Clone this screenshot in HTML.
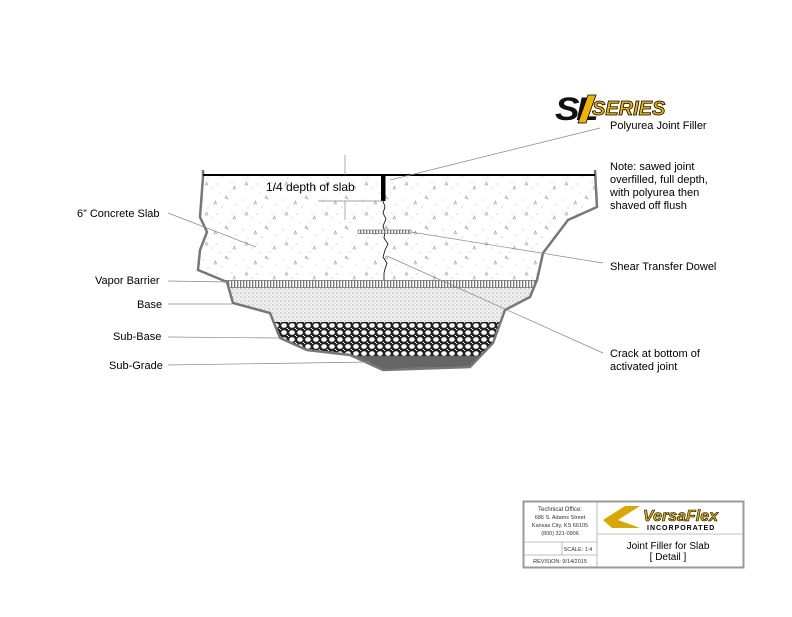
<!DOCTYPE html>
<html><head><style>
body{margin:0;background:#fff;}
svg text{font-family:"Liberation Sans",sans-serif;}
</style></head><body>
<svg width="792" height="612" viewBox="0 0 792 612" xmlns="http://www.w3.org/2000/svg">
<defs>
<pattern id="conc" width="40" height="30" patternUnits="userSpaceOnUse">
<rect width="40" height="30" fill="#fff"/>
<g fill="none" stroke="#999" stroke-width="0.6">
<path d="M5 5l3 0-1.5 -3z"/><path d="M25 18l3 1-2 -3z"/><path d="M14 24l2.5 0-1 -3z"/><path d="M33 9l2.5 0-1 -3z"/>
</g>
<g fill="#999"><circle cx="12" cy="8" r=".5"/><circle cx="32" cy="3" r=".5"/><circle cx="20" cy="13" r=".5"/><circle cx="36" cy="25" r=".5"/><circle cx="3" cy="20" r=".5"/><circle cx="30" cy="12" r=".5"/><circle cx="8" cy="28" r=".5"/><circle cx="22" cy="27" r=".5"/><circle cx="17" cy="4" r=".5"/></g>
</pattern>
<pattern id="vb" width="3" height="8" patternUnits="userSpaceOnUse">
<rect width="3" height="8" fill="#fff"/><rect width="1.3" height="8" fill="#777"/>
</pattern>
<pattern id="base" width="4" height="4" patternUnits="userSpaceOnUse">
<rect width="4" height="4" fill="#f0f0f0"/><circle cx="1" cy="1" r=".6" fill="#999"/><circle cx="3" cy="3" r=".5" fill="#bbb"/>
</pattern>
<pattern id="sub" width="8" height="7" patternUnits="userSpaceOnUse">
<rect width="8" height="7" fill="#222"/><ellipse cx="4" cy="3.5" rx="2.8" ry="2.3" fill="#fff"/><ellipse cx="0" cy="0" rx="1.3" ry="1.1" fill="#fff"/><ellipse cx="8" cy="7" rx="1.3" ry="1.1" fill="#fff"/>
</pattern>
<pattern id="sg" width="2" height="2" patternUnits="userSpaceOnUse">
<rect width="2" height="2" fill="#555"/><circle cx="1" cy="1" r=".5" fill="#aaa"/>
</pattern>
<clipPath id="cl"><path d="M203 170 L203 177 L200 217 L207 232 L200 250 L198 270 L227 282 L233 303 L270 313 L280 338 L307 350 L350 355 L383 370 L470 367 L493 343 L505 310 L530 297 L537 280 L543 253 L568 220 L597 207 L595 170 Z"/></clipPath>
</defs>
<g clip-path="url(#cl)">
<rect x="190" y="175" width="420" height="106" fill="url(#conc)"/>
<rect x="190" y="280" width="420" height="8" fill="url(#vb)"/>
<line x1="190" y1="280.5" x2="610" y2="280.5" stroke="#777" stroke-width=".7"/>
<line x1="190" y1="287.5" x2="610" y2="287.5" stroke="#777" stroke-width=".7"/>
<rect x="190" y="288" width="420" height="34" fill="url(#base)"/>
<rect x="190" y="322" width="420" height="34" fill="url(#sub)"/>
<rect x="190" y="356" width="420" height="20" fill="url(#sg)"/>
</g>
<path d="M203 170 L203 177 L200 217 L207 232 L200 250 L198 270 L227 282 L233 303 L270 313 L280 338 L307 350 L350 355 L383 370 L470 367 L493 343 L505 310 L530 297 L537 280 L543 253 L568 220 L597 207 L595 170" fill="none" stroke="#777" stroke-width="2.5"/>
<line x1="203" y1="175" x2="595" y2="175" stroke="#000" stroke-width="2"/>
<rect x="381" y="175" width="4.5" height="26" fill="#000"/>
<path d="M383 201 l2 6 -2 6 3 6 -3 7 2 6 -1 6 4 6 -3 6 -2 7 4 6 -2 6 -1 4 0 7" fill="none" stroke="#000" stroke-width=".8"/>
<rect x="358" y="230" width="53" height="3.5" fill="url(#vb)" stroke="#666" stroke-width=".6"/>
<g stroke="#888" stroke-width=".7" fill="none">
<line x1="345" y1="155" x2="345" y2="175"/><line x1="345" y1="201" x2="345" y2="220"/>
<line x1="318" y1="201" x2="383" y2="201"/>
<line x1="168" y1="213" x2="256" y2="247"/>
<line x1="168" y1="281" x2="228" y2="282"/>
<line x1="168" y1="304" x2="232" y2="304"/>
<line x1="168" y1="337" x2="278" y2="338"/>
<line x1="168" y1="365" x2="370" y2="362"/>
<line x1="390" y1="180" x2="600" y2="128"/>
<line x1="411" y1="232" x2="603" y2="263"/>
<line x1="387" y1="256" x2="603" y2="353"/>
</g>
<text x="266" y="191" font-size="12">1/4 depth of slab</text>
<g font-size="11" fill="#000">
<text x="77" y="217">6” Concrete Slab</text>
<text x="95" y="284">Vapor Barrier</text>
<text x="137" y="308">Base</text>
<text x="113" y="340">Sub-Base</text>
<text x="109" y="369">Sub-Grade</text>
<text x="610" y="129">Polyurea Joint Filler</text>
<text x="610" y="170">Note: sawed joint</text>
<text x="610" y="183">overfilled, full depth,</text>
<text x="610" y="196">with polyurea then</text>
<text x="610" y="209">shaved off flush</text>
<text x="610" y="270">Shear Transfer Dowel</text>
<text x="610" y="357">Crack at bottom of</text>
<text x="610" y="370">activated joint</text>
</g>
<g font-family="Liberation Sans" font-weight="bold" font-style="italic">
<text x="555" y="120" font-size="32" fill="#111" letter-spacing="-3" transform="translate(555 120) scale(1.15 1) translate(-555 -120)">SL</text>
<polygon points="588,95 596,95 586,123 578,123" fill="#f0b400" stroke="#000" stroke-width=".8"/>
<text x="592" y="115" font-size="20" fill="#f0b400" stroke="#000" stroke-width=".8">SERIES</text>
</g>
<rect x="523.5" y="501.5" width="220" height="66" fill="#fff" stroke="#999" stroke-width="2"/>
<g stroke="#aaa" stroke-width=".8">
<line x1="597" y1="502" x2="597" y2="567"/>
<line x1="524" y1="542" x2="597" y2="542"/>
<line x1="524" y1="555" x2="597" y2="555"/>
<line x1="562" y1="542" x2="562" y2="555"/>
<line x1="597" y1="534" x2="743" y2="534"/>
</g>
<g font-size="5.5" fill="#333" text-anchor="middle">
<text x="560" y="511" font-size="6">Technical Office:</text>
<text x="560" y="519">686 S. Adams Street</text>
<text x="560" y="527">Kansas City, KS 66105</text>
<text x="560" y="535">(800) 321-0906</text>
<text x="578" y="551">SCALE: 1:4</text>
<text x="560" y="563">REVISION: 9/14/2015</text>
</g>
<polygon points="603,520 625,506 640,506 618,520 640,528 612,528" fill="#d8a800"/>
<text x="643" y="521" font-size="16" font-weight="bold" font-style="italic" fill="#e0b000" stroke="#000" stroke-width=".6">VersaFlex</text>
<text x="647" y="530" font-size="7" font-weight="bold" fill="#000" letter-spacing="1">INCORPORATED</text>
<text x="668" y="549" font-size="10" text-anchor="middle">Joint Filler for Slab</text>
<text x="668" y="560" font-size="10" text-anchor="middle">[ Detail ]</text>
</svg>
</body></html>
